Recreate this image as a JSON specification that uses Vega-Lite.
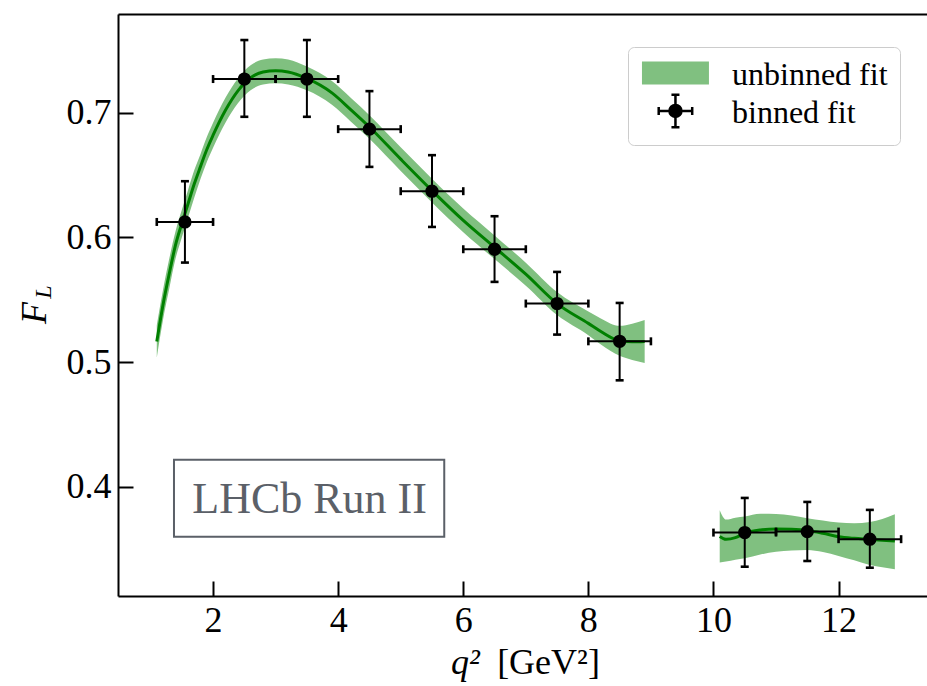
{
  "$schema": "https://vega.github.io/schema/vega-lite/v6.json",
  "width": 809,
  "height": 582,
  "autosize": {"type": "none"},
  "padding": {"left": 118, "top": 14, "right": 0, "bottom": 90},
  "background": "white",
  "config": {"view": {"stroke": null}, "font": "Liberation Serif", "axis": {"grid": false},
    "legend": {"title": null, "orient": "none", "legendX": 510, "legendY": 33, "padding": 12,
      "fillColor": "white", "strokeColor": "#cccccc", "cornerRadius": 6,
      "labelFont": "Liberation Serif", "labelFontSize": 32, "labelColor": "black", "labelOffset": 60,
      "labelLimit": 400, "symbolSize": 645, "symbolStrokeWidth": 2.5, "symbolOpacity": 1, "rowPadding": -2}},
  "datasets": {
    "curve": [
      {"seg": "a", "q2": 1.1, "FL": 0.5165, "lo": 0.5035, "hi": 0.5295},
      {"seg": "a", "q2": 1.2, "FL": 0.546, "lo": 0.534, "hi": 0.558},
      {"seg": "a", "q2": 1.3, "FL": 0.571, "lo": 0.559, "hi": 0.583},
      {"seg": "a", "q2": 1.4, "FL": 0.594, "lo": 0.583, "hi": 0.605},
      {"seg": "a", "q2": 1.5, "FL": 0.611, "lo": 0.6, "hi": 0.622},
      {"seg": "a", "q2": 1.6, "FL": 0.627, "lo": 0.616, "hi": 0.638},
      {"seg": "a", "q2": 1.7, "FL": 0.643, "lo": 0.632, "hi": 0.654},
      {"seg": "a", "q2": 1.8, "FL": 0.657, "lo": 0.647, "hi": 0.667},
      {"seg": "a", "q2": 1.9, "FL": 0.6705, "lo": 0.6605, "hi": 0.6805},
      {"seg": "a", "q2": 2.0, "FL": 0.682, "lo": 0.672, "hi": 0.692},
      {"seg": "a", "q2": 2.2, "FL": 0.7022, "lo": 0.6922, "hi": 0.7122},
      {"seg": "a", "q2": 2.4, "FL": 0.7178, "lo": 0.7078, "hi": 0.7278},
      {"seg": "a", "q2": 2.6, "FL": 0.7281, "lo": 0.7181, "hi": 0.7381},
      {"seg": "a", "q2": 2.8, "FL": 0.7327, "lo": 0.7227, "hi": 0.7427},
      {"seg": "a", "q2": 3.0, "FL": 0.7337, "lo": 0.7237, "hi": 0.7437},
      {"seg": "a", "q2": 3.2, "FL": 0.7328, "lo": 0.7228, "hi": 0.7428},
      {"seg": "a", "q2": 3.5, "FL": 0.7276, "lo": 0.7181, "hi": 0.7371},
      {"seg": "a", "q2": 3.9, "FL": 0.716, "lo": 0.7065, "hi": 0.7255},
      {"seg": "a", "q2": 4.2, "FL": 0.7026, "lo": 0.6931, "hi": 0.7121},
      {"seg": "a", "q2": 4.5, "FL": 0.6886, "lo": 0.6791, "hi": 0.6981},
      {"seg": "a", "q2": 5.0, "FL": 0.6628, "lo": 0.6533, "hi": 0.6723},
      {"seg": "a", "q2": 5.5, "FL": 0.6376, "lo": 0.6281, "hi": 0.6471},
      {"seg": "a", "q2": 6.0, "FL": 0.6137, "lo": 0.6042, "hi": 0.6232},
      {"seg": "a", "q2": 6.5, "FL": 0.5921, "lo": 0.5826, "hi": 0.6016},
      {"seg": "a", "q2": 7.0, "FL": 0.5705, "lo": 0.5613, "hi": 0.5797},
      {"seg": "a", "q2": 7.5, "FL": 0.5469, "lo": 0.5377, "hi": 0.5561},
      {"seg": "a", "q2": 8.0, "FL": 0.531, "lo": 0.5215, "hi": 0.5405},
      {"seg": "a", "q2": 8.2, "FL": 0.5245, "lo": 0.514, "hi": 0.535},
      {"seg": "a", "q2": 8.5, "FL": 0.517, "lo": 0.505, "hi": 0.529},
      {"seg": "a", "q2": 8.7, "FL": 0.5162, "lo": 0.5017, "hi": 0.5307},
      {"seg": "a", "q2": 8.9, "FL": 0.5165, "lo": 0.4993, "hi": 0.5337},
      {"seg": "b", "q2": 10.1, "FL": 0.36, "lo": 0.339, "hi": 0.381},
      {"seg": "b", "q2": 10.2, "FL": 0.3577, "lo": 0.3398, "hi": 0.3735},
      {"seg": "b", "q2": 10.35, "FL": 0.359, "lo": 0.3412, "hi": 0.375},
      {"seg": "b", "q2": 10.5, "FL": 0.3626, "lo": 0.3425, "hi": 0.376},
      {"seg": "b", "q2": 10.75, "FL": 0.3652, "lo": 0.3455, "hi": 0.3782},
      {"seg": "b", "q2": 11.0, "FL": 0.366, "lo": 0.3478, "hi": 0.378},
      {"seg": "b", "q2": 11.25, "FL": 0.3657, "lo": 0.3488, "hi": 0.3768},
      {"seg": "b", "q2": 11.5, "FL": 0.3647, "lo": 0.3492, "hi": 0.3746},
      {"seg": "b", "q2": 11.75, "FL": 0.3625, "lo": 0.3475, "hi": 0.3728},
      {"seg": "b", "q2": 12.0, "FL": 0.3598, "lo": 0.3443, "hi": 0.3711},
      {"seg": "b", "q2": 12.25, "FL": 0.3585, "lo": 0.3408, "hi": 0.3705},
      {"seg": "b", "q2": 12.5, "FL": 0.3577, "lo": 0.3371, "hi": 0.3715},
      {"seg": "b", "q2": 12.7, "FL": 0.357, "lo": 0.3352, "hi": 0.374},
      {"seg": "b", "q2": 12.9, "FL": 0.3564, "lo": 0.3337, "hi": 0.3778}
    ],
    "pts": [
      {"q2": 1.55, "q2lo": 1.1, "q2hi": 2.0, "FL": 0.6124, "FLlo": 0.5798, "FLhi": 0.6451},
      {"q2": 2.5, "q2lo": 2.0, "q2hi": 3.0, "FL": 0.7271, "FLlo": 0.6968, "FLhi": 0.7584},
      {"q2": 3.5, "q2lo": 3.0, "q2hi": 4.0, "FL": 0.7271, "FLlo": 0.6968, "FLhi": 0.7584},
      {"q2": 4.5, "q2lo": 4.0, "q2hi": 5.0, "FL": 0.6869, "FLlo": 0.6566, "FLhi": 0.7174},
      {"q2": 5.5, "q2lo": 5.0, "q2hi": 6.0, "FL": 0.6371, "FLlo": 0.6084, "FLhi": 0.666},
      {"q2": 6.5, "q2lo": 6.0, "q2hi": 7.0, "FL": 0.5905, "FLlo": 0.5643, "FLhi": 0.617},
      {"q2": 7.5, "q2lo": 7.0, "q2hi": 8.0, "FL": 0.5469, "FLlo": 0.522, "FLhi": 0.5723},
      {"q2": 8.5, "q2lo": 8.0, "q2hi": 9.0, "FL": 0.5166, "FLlo": 0.4853, "FLhi": 0.5474},
      {"q2": 10.5, "q2lo": 10.0, "q2hi": 11.0, "FL": 0.3631, "FLlo": 0.3357, "FLhi": 0.3909},
      {"q2": 11.5, "q2lo": 11.0, "q2hi": 12.0, "FL": 0.3639, "FLlo": 0.3403, "FLhi": 0.3877},
      {"q2": 12.5, "q2lo": 12.0, "q2hi": 13.0, "FL": 0.3578, "FLlo": 0.3349, "FLhi": 0.3813}
    ],
    "note": [
      {"bx1": 1.375, "bx2": 5.696, "by1": 0.3598, "by2": 0.4215, "xt": 3.543, "yt": 0.3786, "label": "LHCb Run II"}
    ],
    "keys": [
      {"kind": "unbinned fit"},
      {"kind": "binned fit"}
    ]
  },
  "resolve": {"axis": {"x": "independent", "y": "independent"}},
  "layer": [
    {
      "data": {"name": "curve"},
      "mark": {"type": "area", "interpolate": "monotone", "opacity": 1, "color": "#80c080"},
      "encoding": {
        "x": {"field": "q2", "type": "quantitative",
          "scale": {"domain": [0.48, 13.414], "nice": false, "zero": false},
          "axis": {"orient": "bottom", "values": [2, 4, 6, 8, 10, 12], "format": "d",
            "domainColor": "black", "domainWidth": 2, "tickColor": "black", "tickWidth": 2, "tickSize": -15,
            "labelPadding": 22, "labelFont": "Liberation Serif", "labelFontSize": 36, "labelColor": "black",
            "labelFlush": false, "labelOverlap": false, "grid": false,
            "title": "[GeV²]", "titleFont": "Liberation Serif", "titleFontSize": 36, "titleFontWeight": "normal",
            "titleColor": "black", "titleX": 430, "titleY": 77, "titleAlign": "center", "titleBaseline": "alphabetic"}},
        "y": {"field": "lo", "type": "quantitative",
          "scale": {"domain": [0.3122, 0.7793], "nice": false, "zero": false},
          "axis": {"orient": "left", "values": [0.4, 0.5, 0.6, 0.7], "format": ".1f",
            "domainColor": "black", "domainWidth": 2, "tickColor": "black", "tickWidth": 2, "tickSize": -15,
            "labelPadding": 22, "labelFont": "Liberation Serif", "labelFontSize": 36, "labelColor": "black",
            "labelFlush": false, "labelOverlap": false, "grid": false,
            "title": "F", "titleFont": "Liberation Serif", "titleFontSize": 36, "titleFontStyle": "italic",
            "titleFontWeight": "normal", "titleColor": "black", "titleX": -73, "titleY": 298.5, "titleAngle": -90,
            "titleAlign": "center", "titleBaseline": "alphabetic"}},
        "y2": {"field": "hi"},
        "detail": {"field": "seg"}
      }
    },
    {
      "data": {"name": "curve"},
      "mark": {"type": "line", "interpolate": "monotone", "color": "#008000", "strokeWidth": 3},
      "encoding": {
        "x": {"field": "q2", "type": "quantitative",
          "scale": {"domain": [0.48, 13.414], "nice": false, "zero": false},
          "axis": {"orient": "top", "domain": true, "domainColor": "black", "domainWidth": 2, "ticks": false, "labels": false, "grid": false,
            "title": "q²", "titleFont": "Liberation Serif", "titleFontSize": 36, "titleFontStyle": "italic", "titleFontWeight": "normal",
            "titleColor": "black", "titleX": 347, "titleY": 659, "titleAlign": "center", "titleBaseline": "alphabetic", "titleAngle": 0}},
        "y": {"field": "FL", "type": "quantitative",
          "scale": {"domain": [0.3122, 0.7793], "nice": false, "zero": false},
          "axis": {"orient": "right", "domain": false, "ticks": false, "labels": false, "grid": false,
            "title": "L", "titleFont": "Liberation Serif", "titleFontSize": 24, "titleFontStyle": "italic", "titleFontWeight": "normal",
            "titleColor": "black", "titleX": -877, "titleY": 277.5, "titleAngle": -90, "titleAlign": "center", "titleBaseline": "alphabetic"}},
        "detail": {"field": "seg"}
      }
    },
    {
      "data": {"name": "pts"},
      "mark": {"type": "rule", "color": "black", "strokeWidth": 2},
      "encoding": {
        "x": {"field": "q2lo", "type": "quantitative", "scale": {"domain": [0.48, 13.414], "nice": false, "zero": false}, "axis": null},
        "x2": {"field": "q2hi"},
        "y": {"field": "FL", "type": "quantitative", "scale": {"domain": [0.3122, 0.7793], "nice": false, "zero": false}, "axis": null}
      }
    },
    {
      "data": {"name": "pts"},
      "mark": {"type": "rule", "color": "black", "strokeWidth": 2},
      "encoding": {
        "x": {"field": "q2", "type": "quantitative", "scale": {"domain": [0.48, 13.414], "nice": false, "zero": false}, "axis": null},
        "y": {"field": "FLlo", "type": "quantitative", "scale": {"domain": [0.3122, 0.7793], "nice": false, "zero": false}, "axis": null},
        "y2": {"field": "FLhi"}
      }
    },
    {
      "data": {"name": "pts"},
      "mark": {"type": "point", "shape": "M0,-1V1", "size": 64, "filled": false, "color": "black", "strokeWidth": 2.6, "opacity": 1},
      "encoding": {
        "x": {"field": "q2lo", "type": "quantitative", "scale": {"domain": [0.48, 13.414], "nice": false, "zero": false}, "axis": null},
        "y": {"field": "FL", "type": "quantitative", "scale": {"domain": [0.3122, 0.7793], "nice": false, "zero": false}, "axis": null}
      }
    },
    {
      "data": {"name": "pts"},
      "mark": {"type": "point", "shape": "M0,-1V1", "size": 64, "filled": false, "color": "black", "strokeWidth": 2.6, "opacity": 1},
      "encoding": {
        "x": {"field": "q2hi", "type": "quantitative", "scale": {"domain": [0.48, 13.414], "nice": false, "zero": false}, "axis": null},
        "y": {"field": "FL", "type": "quantitative", "scale": {"domain": [0.3122, 0.7793], "nice": false, "zero": false}, "axis": null}
      }
    },
    {
      "data": {"name": "pts"},
      "mark": {"type": "point", "shape": "M-1,0H1", "size": 64, "filled": false, "color": "black", "strokeWidth": 2.6, "opacity": 1},
      "encoding": {
        "x": {"field": "q2", "type": "quantitative", "scale": {"domain": [0.48, 13.414], "nice": false, "zero": false}, "axis": null},
        "y": {"field": "FLlo", "type": "quantitative", "scale": {"domain": [0.3122, 0.7793], "nice": false, "zero": false}, "axis": null}
      }
    },
    {
      "data": {"name": "pts"},
      "mark": {"type": "point", "shape": "M-1,0H1", "size": 64, "filled": false, "color": "black", "strokeWidth": 2.6, "opacity": 1},
      "encoding": {
        "x": {"field": "q2", "type": "quantitative", "scale": {"domain": [0.48, 13.414], "nice": false, "zero": false}, "axis": null},
        "y": {"field": "FLhi", "type": "quantitative", "scale": {"domain": [0.3122, 0.7793], "nice": false, "zero": false}, "axis": null}
      }
    },
    {
      "data": {"name": "pts"},
      "mark": {"type": "point", "shape": "circle", "size": 177, "filled": true, "color": "black", "opacity": 1},
      "encoding": {
        "x": {"field": "q2", "type": "quantitative", "scale": {"domain": [0.48, 13.414], "nice": false, "zero": false}, "axis": null},
        "y": {"field": "FL", "type": "quantitative", "scale": {"domain": [0.3122, 0.7793], "nice": false, "zero": false}, "axis": null}
      }
    },
    {
      "data": {"name": "note"},
      "mark": {"type": "rect", "fill": "white", "stroke": "#5b6068", "strokeWidth": 2},
      "encoding": {
        "x": {"field": "bx1", "type": "quantitative", "scale": {"domain": [0.48, 13.414], "nice": false, "zero": false}, "axis": null},
        "x2": {"field": "bx2"},
        "y": {"field": "by1", "type": "quantitative", "scale": {"domain": [0.3122, 0.7793], "nice": false, "zero": false}, "axis": null},
        "y2": {"field": "by2"}
      }
    },
    {
      "data": {"name": "note"},
      "mark": {"type": "text", "font": "Liberation Serif", "fontSize": 44, "color": "#5b6068", "align": "center", "baseline": "alphabetic"},
      "encoding": {
        "x": {"field": "xt", "type": "quantitative", "scale": {"domain": [0.48, 13.414], "nice": false, "zero": false}, "axis": null},
        "y": {"field": "yt", "type": "quantitative", "scale": {"domain": [0.3122, 0.7793], "nice": false, "zero": false}, "axis": null},
        "text": {"field": "label"}
      }
    },
    {
      "data": {"name": "keys"},
      "transform": [{"filter": "false"}],
      "mark": {"type": "point", "filled": true, "opacity": 1, "strokeWidth": 2.5},
      "encoding": {
        "fill": {"field": "kind", "type": "nominal",
          "scale": {"domain": ["unbinned fit", "binned fit"], "range": ["#80c080", "#000000"]}, "legend": {}},
        "stroke": {"field": "kind", "type": "nominal",
          "scale": {"domain": ["unbinned fit", "binned fit"], "range": ["#80c080", "#000000"]}, "legend": {}},
        "shape": {"field": "kind", "type": "nominal",
          "scale": {"domain": ["unbinned fit", "binned fit"], "range": ["M-1.007,-0.967H4.071V0.647H-1.007Z", "M0.213,-0.16H2.851M1.532,-1.44V1.12M0.213,-0.475V0.155M2.851,-0.475V0.155M1.217,-1.44H1.847M1.217,1.12H1.847M2.004,-0.16A0.472,0.472,0,1,1,1.06,-0.16A0.472,0.472,0,1,1,2.004,-0.16Z"]}, "legend": {}}
      }
    }
  ]
}
